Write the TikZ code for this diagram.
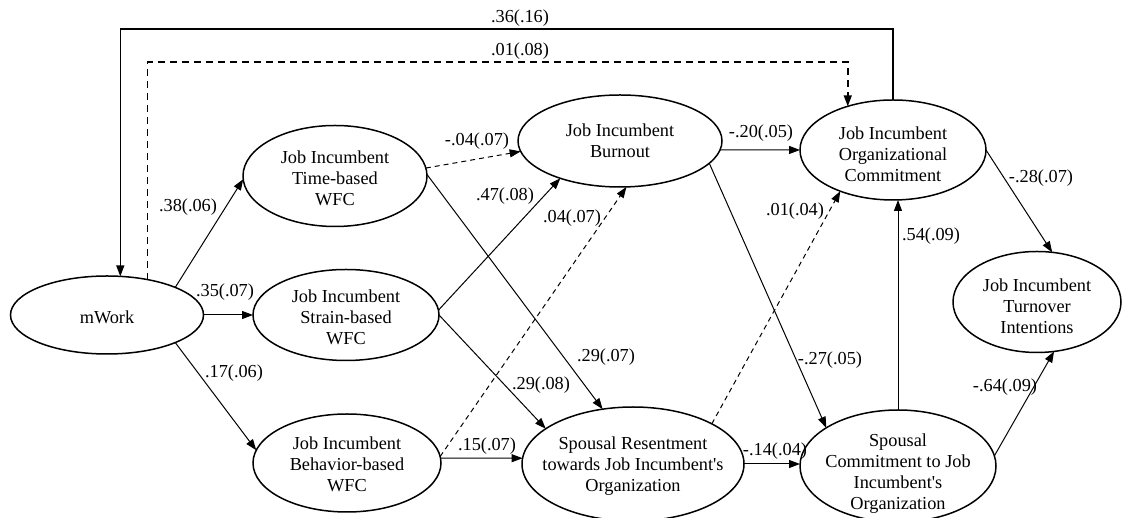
\documentclass[tikz,border=0pt]{standalone}
\usepackage{fontspec}
\setmainfont{Liberation Serif}
\newfontfamily\tnr{Liberation Serif}
\usetikzlibrary{arrows.meta,shapes.geometric}
\newcommand{\apo}{\textquotesingle}
\begin{document}
\begin{tikzpicture}[x=1pt,y=1pt,
  ell/.style={draw, ellipse, line width=1.5pt, inner sep=0pt, outer sep=0pt},
  txt/.style={align=center, font=\tnr\fontsize{18.3}{21}\selectfont, inner sep=0pt},
  lab/.style={font=\tnr\fontsize{18.3}{21}\selectfont, inner sep=0pt},
  arr/.style={line width=1pt, -{Triangle[length=11pt,width=8pt]}},
  darr/.style={arr, dash pattern=on 5pt off 4pt},
  toparr/.style={line width=1.5pt, -{Triangle[length=11pt,width=8pt]}},
  topdash/.style={toparr, dash pattern=on 7pt off 5pt}]
\useasboundingbox (0,0) rectangle (1124,518);
% ellipses
\node[ell, minimum width=193pt, minimum height=78pt]  (mwork)  at (107,203) {};
\node[ell, minimum width=184pt, minimum height=101pt] (time)   at (335,342) {};
\node[ell, minimum width=186pt, minimum height=91pt]  (strain) at (346,203) {};
\node[ell, minimum width=188pt, minimum height=98pt]  (beh)    at (347,55) {};
\node[ell, minimum width=204pt, minimum height=92pt]  (burn)   at (620,377) {};
\node[ell, minimum width=186pt, minimum height=100pt] (orgc)   at (893,368) {};
\node[ell, minimum width=168pt, minimum height=101pt] (turn)   at (1037,216) {};
\node[ell, minimum width=222pt, minimum height=114pt] (res)    at (633,54) {};
\node[ell, minimum width=196pt, minimum height=112pt] (spc)    at (898,52) {};
% texts
\node[txt] (mworkt)  at ([yshift=-2pt]mwork.center)  {mWork};
\node[txt] (timet)   at ([yshift=-2pt]time.center)   {Job Incumbent\\Time-based\\WFC};
\node[txt] (straint) at ([yshift=-2pt]strain.center) {Job Incumbent\\Strain-based\\WFC};
\node[txt] (beht)    at ([yshift=-1pt]beh.center)    {Job Incumbent\\Behavior-based\\WFC};
\node[txt] (burnt)   at (burn.center)                {Job Incumbent\\Burnout};
\node[txt] (orgct)   at ([yshift=-4pt]orgc.center)   {Job Incumbent\\Organizational\\Commitment};
\node[txt] (turnt)   at ([yshift=-4pt]turn.center)   {Job Incumbent\\Turnover\\Intentions};
\node[txt] (rest)    at ([yshift=-2pt]res.center)    {Spousal Resentment\\towards Job Incumbent\apo s\\Organization};
\node[txt] (spct)    at ([yshift=-8pt]spc.center)    {Spousal\\Commitment to Job\\Incumbent\apo s\\Organization};
% helper coordinates for the top paths
\coordinate (stop) at (500,489);
\coordinate (dtop) at (500,456);
% top connectors
\draw[toparr] (orgc.north) |- (stop) -| (mwork.71.4);
\draw[topdash] (mwork.41.6) |- (dtop) -| (orgc.136.6);
% connectors
\draw[arr]  (mwork.22.8) -- (time.182.5);
\draw[arr]  (mwork.east) -- (strain.west);
\draw[arr]  (mwork.-22.1) -- (beh.172.1);
\draw[darr] (time.5) -- (burn.186.2);
\draw[arr]  (time.1) -- (res.119);
\draw[arr]  (strain.3) -- (burn.212.2);
\draw[arr]  (strain.0) -- (res.158);
\draw[darr] (beh.4) -- (burn.-82);
\draw[arr]  (beh.3) -- (res.177);
\draw[arr]  (burn.-5.1) -- (orgc.west);
\draw[arr]  (burn.-14.6) -- (spc.152.5);
\draw[darr] (res.27.7) -- (orgc.218.7);
\draw[arr]  (res.east) -- (res.east -| spc.west);
\draw[arr]  (spc.north) -- (spc.north |- orgc.south);
\draw[arr]  (orgc.east) -- (turn.73.5);
\draw[arr]  (spc.6) -- (turn.-71.2);
% labels
\node[lab] (l1)  at (520,500) {.36(.16)};
\node[lab] (l2)  at (520,467) {.01(.08)};
\node[lab] (l3)  at (188,311) {.38(.06)};
\node[lab] (l4)  at (225,226) {.35(.07)};
\node[lab] (l5)  at (234,145) {.17(.06)};
\node[lab] (l6)  at (477,377) {-.04(.07)};
\node[lab] (l7)  at (505,322) {.47(.08)};
\node[lab] (l8)  at (572,300) {.04(.07)};
\node[lab] (l9)  at (606,161) {.29(.07)};
\node[lab] (l10) at (541,133) {.29(.08)};
\node[lab] (l11) at (487,72)  {.15(.07)};
\node[lab] (l12) at (761,385) {-.20(.05)};
\node[lab] (l13) at (830,158) {-.27(.05)};
\node[lab] (l14) at (795,307) {.01(.04)};
\node[lab] (l15) at (931,282) {.54(.09)};
\node[lab] (l16) at (1041,340) {-.28(.07)};
\node[lab] (l17) at (775,67)  {-.14(.04)};
\node[lab] (l18) at (1005,131) {-.64(.09)};
\end{tikzpicture}
\end{document}
